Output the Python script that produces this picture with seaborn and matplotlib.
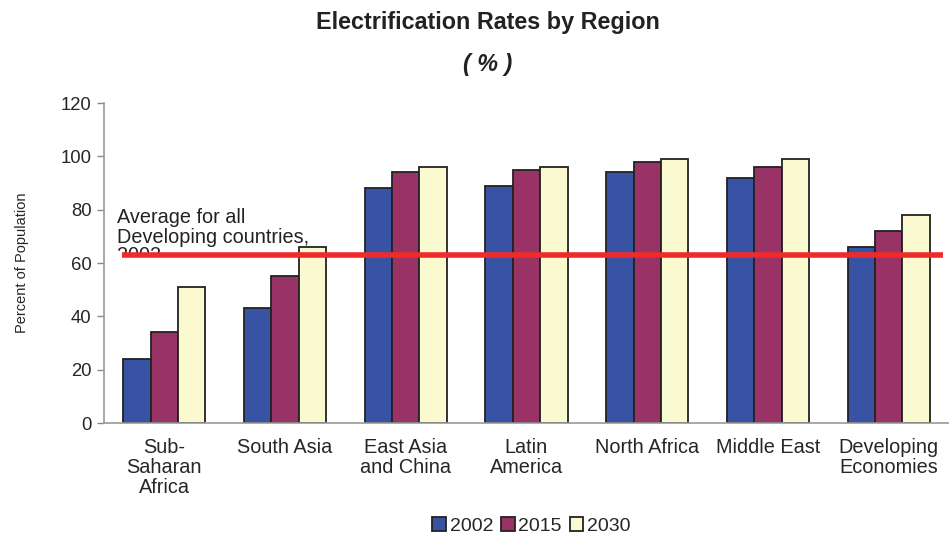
import matplotlib
matplotlib.use("Agg")
import matplotlib.pyplot as plt
import seaborn as sns
import pandas as pd
from matplotlib.patches import Rectangle

regions = ["Sub-\nSaharan\nAfrica", "South Asia", "East Asia\nand China", "Latin\nAmerica",
           "North Africa", "Middle East", "Developing\nEconomies"]
years = ["2002", "2015", "2030"]
v2002 = [24, 43, 88, 89, 94, 92, 66]
v2015 = [34, 55, 94, 95, 98, 96, 72]
v2030 = [51, 66, 96, 96, 99, 99, 78]
average_2002 = 63
yticks = [0, 20, 40, 60, 80, 100, 120]

rows = []
for y, vals in zip(years, [v2002, v2015, v2030]):
    for r, v in zip(regions, vals):
        rows.append({"region": r, "year": y, "value": v})
df = pd.DataFrame(rows)

sns.set_style("white")
plt.rcParams['font.family'] = ['Liberation Sans', 'DejaVu Sans']

fig = plt.figure(figsize=(9.49, 5.39), dpi=100)
ax = fig.add_axes([104/949, 1-423/539, 1-104/949, 320/539])

palette = {"2002": "#3953A4", "2015": "#993366", "2030": "#FBF9CF"}
sns.barplot(data=df, x="region", y="value", hue="year", palette=palette,
            width=0.68, gap=0, saturation=1, edgecolor="#222222", linewidth=1.3,
            errorbar=None, ax=ax, zorder=2)

ax.set_xlim(-0.5, 6.5)
ax.set_ylim(0, 120)
ax.set_yticks(yticks)
ax.set_yticklabels([str(t) for t in yticks], fontsize=13.3)
ax.set_xticks(range(len(regions)))
ax.set_xticklabels(regions, fontsize=14.3, linespacing=1.05)
ax.tick_params(axis="x", which="major", length=0, pad=11)
ax.set_xticks([0.5, 1.5, 2.5, 3.5, 4.5, 5.5], minor=True)
ax.tick_params(axis="x", which="minor", length=5, color="#888888", width=1)
ax.tick_params(axis="y", length=5, color="#888888", width=1, left=True, pad=4)
for side in ["top", "right"]:
    ax.spines[side].set_visible(False)
for side in ["left", "bottom"]:
    ax.spines[side].set_color("#999999")
    ax.spines[side].set_linewidth(1.2)
ax.set_xlabel("")
ax.set_ylabel("Percent of Population", fontsize=10.5, labelpad=23)

# average line
ax.plot([-0.35, 6.45], [average_2002, average_2002], color="#EE2A2A", lw=4, zorder=5,
        solid_capstyle="butt")
ax.text(-0.39, 80.6, "Average for all\nDeveloping countries,", fontsize=14.3,
        va="top", ha="left", linespacing=1.05, color="#222222", zorder=4)
t = ax.text(-0.39, 59.3, "2002", fontsize=14.3, va="bottom", ha="left",
            color="#222222", zorder=4)
clip = Rectangle((-0.5, average_2002), 7, 60, transform=ax.transData)
t.set_clip_on(True)
t.set_clip_path(clip)

fig.text(0.514, 0.958, "Electrification Rates by Region", ha="center", va="center",
         fontsize=16.8, fontweight="bold", color="#222222")
fig.text(0.514, 0.880, "( % )", ha="center", va="center",
         fontsize=16.8, fontweight="bold", fontstyle="italic", color="#222222")

handles, labels = ax.get_legend_handles_labels()
ax.legend(handles, labels, loc="center", bbox_to_anchor=(0.56, 0.024),
          bbox_transform=fig.transFigure, ncol=3, frameon=False, fontsize=14,
          handlelength=0.7, handleheight=0.7, handletextpad=0.2, columnspacing=0.4)

fig.savefig("out.png", dpi=100)
